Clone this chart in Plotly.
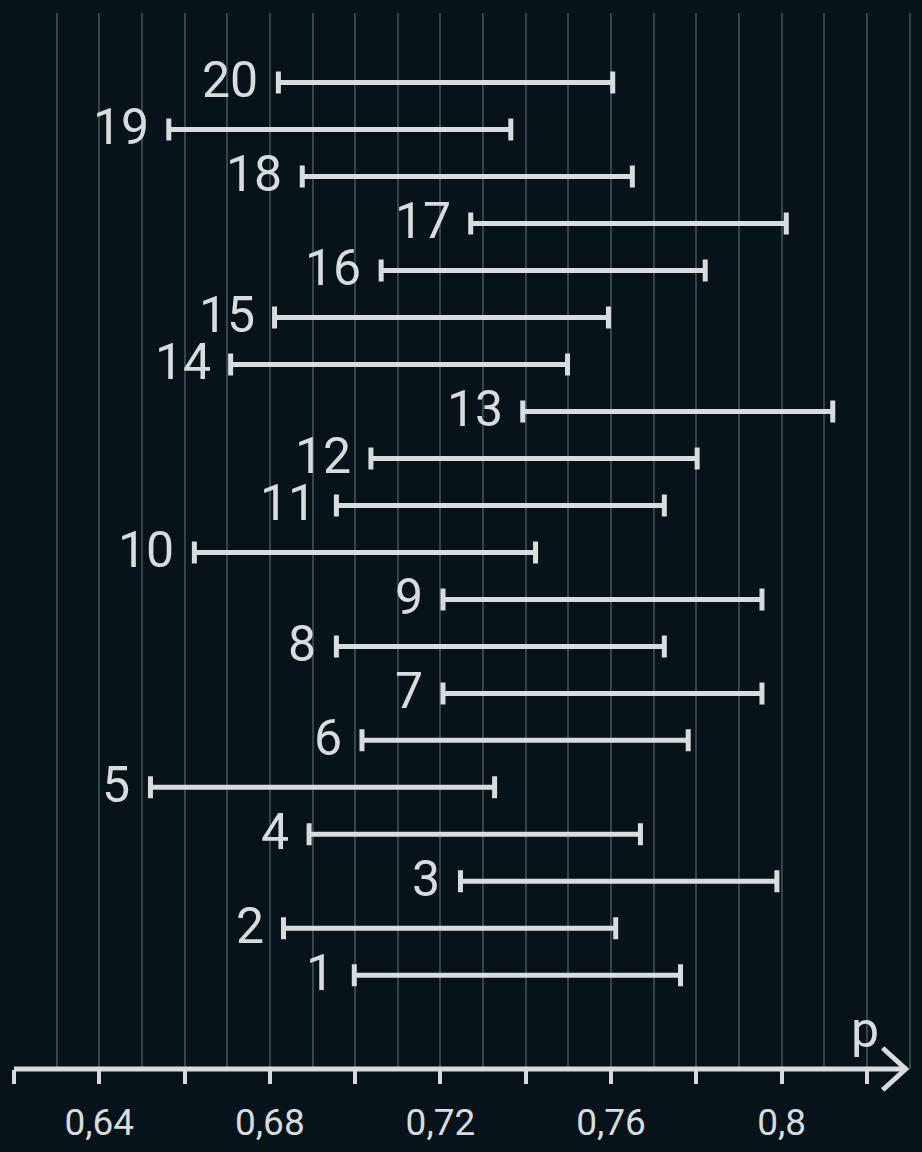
import plotly.graph_objects as go

# confidence intervals, one per sample
sample = list(range(1, 21))
lower = [0.6998, 0.6832, 0.7247, 0.6892, 0.6520, 0.7016, 0.7206, 0.6956, 0.7206, 0.6623,
         0.6956, 0.7037, 0.7393, 0.6708, 0.6811, 0.7061, 0.7271, 0.6876, 0.6563, 0.6820]
upper = [0.7763, 0.7611, 0.7989, 0.7669, 0.7327, 0.7781, 0.7954, 0.7725, 0.7954, 0.7423,
         0.7725, 0.7802, 0.8120, 0.7498, 0.7594, 0.7821, 0.8011, 0.7650, 0.7365, 0.7604]

tick_vals = [0.62, 0.64, 0.66, 0.68, 0.70, 0.72, 0.74, 0.76, 0.78, 0.80, 0.82]
tick_text = ["", "0,64", "", "0,68", "", "0,72", "", "0,76", "", "0,8", ""]

BG = "#07131a"
GRID = "#34454b"
FG = "#d8dcdc"
X_RANGE = [0.62, 0.83105]
ARROW_TIP = 0.8291

center = [(lo + hi) / 2 for lo, hi in zip(lower, upper)]

fig = go.Figure()
fig.add_trace(go.Scatter(
    x=center, y=sample, mode="markers",
    marker=dict(size=1, opacity=0),
    error_x=dict(type="data", symmetric=False,
                 array=[hi - c for hi, c in zip(upper, center)],
                 arrayminus=[c - lo for c, lo in zip(center, lower)],
                 color=FG, thickness=5, width=11),
    hoverinfo="skip", showlegend=False,
))

for s, lo in zip(sample, lower):
    fig.add_annotation(x=lo, y=s, text=str(s), showarrow=False,
                       xanchor="right", yanchor="middle", xshift=-18, yshift=2,
                       font=dict(size=50, color=FG, family="Roboto"))

# axis line with arrow and variable name
fig.add_shape(type="line", xref="x", yref="paper", x0=X_RANGE[0], x1=ARROW_TIP,
              y0=0, y1=0, line=dict(color=FG, width=5))
fig.add_shape(type="path", xref="x", yref="paper", xsizemode="pixel", ysizemode="pixel",
              xanchor=ARROW_TIP, yanchor=0, path="M -23,21 L 0,0 L -23,-21",
              line=dict(color=FG, width=5))
fig.add_annotation(x=0.8195, y=0, xref="x", yref="paper", text="p", showarrow=False,
                   xanchor="center", yanchor="middle", yshift=39,
                   font=dict(size=50, color=FG, family="Roboto"))

fig.update_layout(
    width=922, height=1152,
    margin=dict(l=14, r=8, t=13, b=75),
    paper_bgcolor=BG, plot_bgcolor=BG,
    font=dict(family="Roboto", color=FG),
    xaxis=dict(range=X_RANGE, tickmode="array", tickvals=tick_vals, ticktext=tick_text,
               ticks="outside", ticklen=14, tickwidth=4, tickcolor=FG,
               ticklabelstandoff=7,
               tickfont=dict(size=37, color=FG, family="Roboto"),
               showgrid=True, gridcolor=GRID, gridwidth=2,
               minor=dict(dtick=0.01, tick0=0.62, showgrid=True, gridcolor=GRID, gridwidth=2),
               showline=False, zeroline=False),
    xaxis2=dict(range=X_RANGE, overlaying="x", anchor="y", side="bottom",
                tickmode="array", tickvals=tick_vals, showticklabels=False,
                ticks="inside", ticklen=14, tickwidth=4, tickcolor=FG,
                showgrid=False, showline=False, zeroline=False),
    yaxis=dict(range=[-0.993, 21.478], visible=False, fixedrange=True),
)

# drop the default page margin so the figure fills the window
fig.write_html("out.html", config={"displayModeBar": False},
               post_script="document.body.style.margin='0';document.body.style.background='%s';" % BG)
